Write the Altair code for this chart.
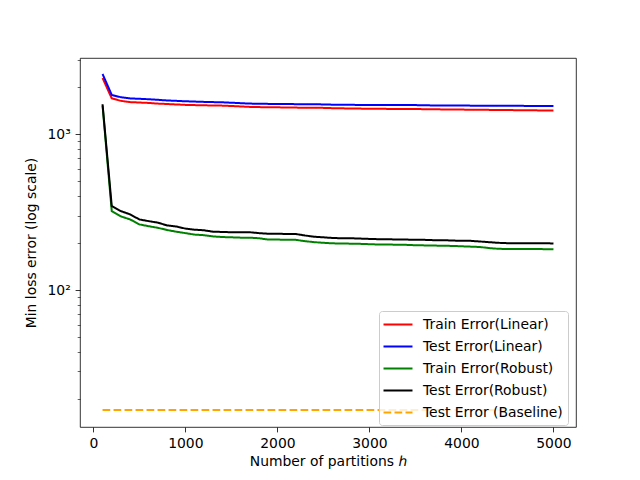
import altair as alt
import pandas as pd

h = list(range(100, 5001, 100))

train_linear = [2300, 1700, 1640, 1610, 1600, 1590, 1575, 1565, 1555, 1545,
                1540, 1535, 1532, 1528, 1520, 1510, 1500, 1495, 1492, 1490,
                1487, 1484, 1482, 1480, 1478, 1472, 1468, 1465, 1462, 1460,
                1458, 1456, 1455, 1454, 1453, 1450, 1447, 1445, 1443, 1441,
                1439, 1437, 1435, 1433, 1431, 1429, 1427, 1425, 1423, 1421]
test_linear = [2440, 1790, 1730, 1700, 1690, 1680, 1665, 1650, 1640, 1630,
               1622, 1615, 1610, 1605, 1595, 1585, 1575, 1570, 1568, 1566,
               1564, 1562, 1560, 1558, 1556, 1550, 1548, 1546, 1544, 1542,
               1541, 1540, 1540, 1540, 1540, 1535, 1533, 1532, 1531, 1530,
               1528, 1526, 1527, 1528, 1526, 1524, 1522, 1520, 1519, 1518]
train_robust = [1530, 321, 297, 284, 264, 257, 251, 243, 237, 232,
                227, 225, 221, 219, 218, 217, 217, 215, 211, 211,
                210, 210, 206, 203, 201, 199.5, 199, 198.5, 198, 197,
                196, 196, 195.5, 195, 194, 193.5, 193, 192.5, 192, 191,
                190, 189, 186, 184, 183.5, 183.5, 183.5, 183.5, 183, 182.5]
test_robust = [1560, 346, 321, 306, 284, 277, 271, 260, 256, 248,
               244, 242, 237, 236, 235, 235, 235, 232, 230, 230,
               229, 229, 224, 220, 218, 216, 215, 215, 214, 213,
               212, 212, 211, 211, 210, 210, 209, 209, 208, 207,
               207, 205, 203, 201, 200, 200, 200, 200, 200, 199]
baseline_h = [100, 5000]
baseline = [17.0, 17.0]

series = ["Train Error(Linear)", "Test Error(Linear)", "Train Error(Robust)",
          "Test Error(Robust)", "Test Error (Baseline)"]
colors = ["#ff0000", "#0000ff", "#008000", "#000000", "#ffa500"]
dashes = [[1, 0], [1, 0], [1, 0], [1, 0], [7.7, 3.3]]

x_ticks = [0, 1000, 2000, 3000, 4000, 5000]
y_ticks = [20, 30, 40, 50, 60, 70, 80, 90, 100, 200, 300, 400, 500, 600, 700,
           800, 900, 1000, 2000, 3000]

rows = []
for name, vals, xs in [(series[0], train_linear, h), (series[1], test_linear, h),
                       (series[2], train_robust, h), (series[3], test_robust, h),
                       (series[4], baseline, baseline_h)]:
    for i, (xv, yv) in enumerate(zip(xs, vals)):
        rows.append({"h": xv, "value": yv, "series": name, "order": i})
df = pd.DataFrame(rows)

FONT = "DejaVu Sans"

chart = alt.Chart(df).mark_line(strokeWidth=2).encode(
    x=alt.X("h:Q",
            scale=alt.Scale(domain=[-145, 5245], nice=False, zero=False),
            axis=alt.Axis(values=x_ticks, title="Number of partitions ℎ",
                          format="d", grid=False, domain=False,
                          tickSize=4.9, tickWidth=0.8, tickColor="black",
                          labelPadding=4.9, labelFontSize=13.9, labelFont=FONT,
                          labelColor="black", titleFont=FONT, titleFontSize=13.9,
                          titleFontWeight="normal", titleColor="black",
                          titlePadding=4)),
    y=alt.Y("value:Q",
            scale=alt.Scale(type="log", domain=[13.2, 3090], nice=False),
            axis=alt.Axis(values=y_ticks,
                          labelExpr="datum.value == 100 ? '10²' : (datum.value == 1000 ? '10³' : '')",
                          title="Min loss error (log scale)", grid=False, domain=False,
                          tickSize={"condition": {"test": "datum.value == 100 || datum.value == 1000", "value": 4.9}, "value": 2.8},
                          tickWidth={"condition": {"test": "datum.value == 100 || datum.value == 1000", "value": 0.8}, "value": 0.6},
                          tickColor="black", labelPadding=4.9,
                          labelFontSize=13.9, labelFont=FONT, labelColor="black",
                          labelOverlap=False,
                          titleFont=FONT, titleFontSize=13.9, titleFontWeight="normal",
                          titleColor="black", titlePadding=8)),
    color=alt.Color("series:N", scale=alt.Scale(domain=series, range=colors),
                    title=None),
    strokeDash=alt.StrokeDash("series:N", scale=alt.Scale(domain=series, range=dashes),
                              title=None),
    order="order:Q",
).properties(
    width=496, height=369,
    autosize=alt.AutoSizeParams(type="none"),
    padding={"left": 72, "top": 50, "right": 56, "bottom": 45},
).configure_view(
    stroke="black", strokeWidth=0.8
).configure_legend(
    orient="none", legendX=299, legendY=253,
    symbolType="M-2,0H2", symbolSize=210, symbolStrokeWidth=2,
    symbolOffset=5.5,
    labelFont=FONT, labelFontSize=13.9, labelColor="black", labelOffset=16.5,
    rowPadding=6, padding=5, cornerRadius=3,
    strokeColor="#cccccc", fillColor="rgba(255,255,255,0.8)",
    labelLimit=300,
)

chart.save("out.html", embed_options={"renderer": "svg", "actions": False})
